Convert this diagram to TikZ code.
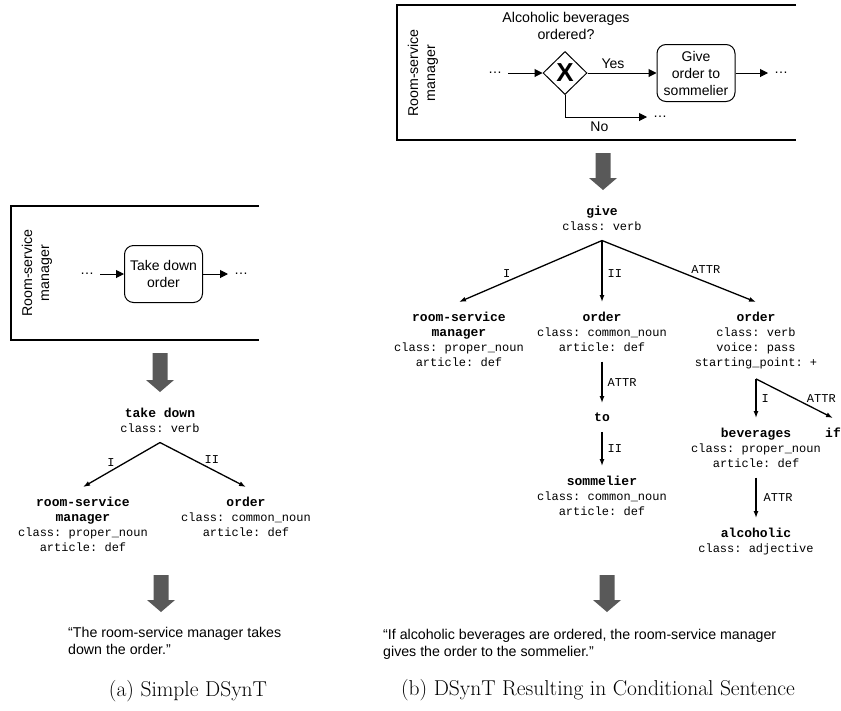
\documentclass[tikz,border=0pt]{standalone}
\usepackage{fontspec}
\setsansfont{Liberation Sans}
\setmonofont{Liberation Mono}
\usetikzlibrary{arrows.meta,shapes.geometric}

% grey block arrow between the stages: x, top, bottom
\newcommand{\graydown}[3]{%
  \fill[bigarrow] (#1-7.5,#2) -- (#1+7.5,#2) -- (#1+7.5,#3-12) -- (#1+14,#3-12)
    -- (#1,#3) -- (#1-14,#3-12) -- (#1-7.5,#3-12) -- cycle;}
\newcommand{\lexname}[1]{{\fontsize{13}{15}\selectfont\bfseries #1}}

\begin{document}
\begin{tikzpicture}[x=1pt, y=-1pt,
    lane/.style={line width=1.2pt},
    task/.style={draw, rounded corners=9pt, line width=1pt, align=center,
      minimum width=78pt, minimum height=57pt, inner sep=1pt,
      font=\sffamily\fontsize{14}{17}\selectfont},
    gate/.style={draw, diamond, line width=1pt, minimum width=44pt,
      minimum height=43pt, inner sep=0pt,
      font=\sffamily\bfseries\fontsize{26}{26}\selectfont},
    etc/.style={font=\sffamily\fontsize{14}{17}\selectfont, inner sep=1pt, outer sep=5pt},
    flow/.style={line width=1pt, -{Triangle[length=8pt,width=8pt]}},
    dep/.style={line width=1.3pt, -{Latex[length=7pt,width=5pt]}},
    lex/.style={align=center, inner sep=2pt, outer ysep=8pt, anchor=north,
      font=\ttfamily\fontsize{12}{15}\selectfont},
    rel/.style={font=\ttfamily\fontsize{12}{14}\selectfont, inner sep=1pt},
    sans/.style={font=\sffamily\fontsize{14.2}{17}\selectfont, align=left, inner sep=0pt},
    lbl/.style={font=\sffamily\fontsize{14}{17}\selectfont, inner sep=4pt},
    caption/.style={font=\fontsize{21.5}{25}\selectfont},
    bigarrow/.style={fill=black!65}]
\useasboundingbox (0,0) rectangle (841,710);

% (a) simple task
\draw[lane] (259,206) -| (11,340) -- (259,340);
\node[sans, rotate=90, align=center] (lanea) at (37,273) {Room-service\\manager};
\node[etc] (ina) at (87,274) {…};
\node[task] (take) at (163.5,274) {Take down\\order};
\node[etc] (outa) at (241,274) {…};
\draw[flow] (ina) -- (take);
\draw[flow] (take) -- (outa);

\graydown{160}{353}{392}

\node[lex] (takedown) at (160,398) {\lexname{take down}\\class: verb};
\node[lex] (rsma) at (83,487) {\lexname{room-service}\\\lexname{manager}\\class: proper\_noun\\article: def};
\node[lex] (ordera) at (246,487) {\lexname{order}\\class: common\_noun\\article: def};
\draw[dep] (takedown.south) -- node[rel, above left, pos=.57] {I} (rsma.north);
\draw[dep] (takedown.south) -- node[rel, above right, pos=.5] {II} (ordera.north);

\graydown{161}{575}{612}

\node[sans, anchor=north west] (sentencea) at (68,627) {“The room-service manager takes\\down the order.”};
\node[caption] (capa) at (188,691) {(a) Simple DSynT};

% (b) exclusive gateway
\draw[lane] (796,5) -| (397,140) -- (796,140);
\node[sans, rotate=90, align=center] (laneb) at (423,73) {Room-service\\manager};
\node[sans, align=center] (question) at (566,26) {Alcoholic beverages\\ordered?};
\node[etc] (inb) at (495,73) {…};
\node[gate] (xor) at (565,73) {X};
\node[task] (giveto) at (696,73) {Give\\order to\\sommelier};
\node[etc] (outb) at (781,73) {…};
\node[etc] (nob) at (660,117) {…};
\draw[flow] (inb) -- (xor);
\draw[flow] (xor) -- node[lbl, above, pos=.37] {Yes} (giveto);
\draw[flow] (giveto) -- (outb);
\draw[flow] (xor.south) |- node[lbl, below, pos=.71] {No} (nob);

\graydown{603}{153}{190}

\node[lex] (give) at (602,196) {\lexname{give}\\class: verb};
\node[lex] (rsmb) at (459,302) {\lexname{room-service}\\\lexname{manager}\\class: proper\_noun\\article: def};
\node[lex] (orderb) at (602,302) {\lexname{order}\\class: common\_noun\\article: def};
\node[lex] (orderv) at (756,302) {\lexname{order}\\class: verb\\voice: pass\\starting\_point: +};
\node[lex] (prep) at (602,403) {\lexname{to}};
\node[lex] (somm) at (602,466) {\lexname{sommelier}\\class: common\_noun\\article: def};
\node[lex] (bev) at (756,418) {\lexname{beverages}\\class: proper\_noun\\article: def};
\node[lex] (cond) at (833,418) {\lexname{if}};
\node[lex] (alc) at (756,518) {\lexname{alcoholic}\\class: adjective};
\draw[dep] (give.south) -- node[rel, above left, pos=.63] {I} (rsmb.north);
\draw[dep] (give.south) -- node[rel, right=4pt, pos=.54] {II} (orderb.north);
\draw[dep] (give.south) -- node[rel, above right, pos=.57] {ATTR} (orderv.north);
\draw[dep] (orderb.south) -- node[rel, right=4pt] {ATTR} (prep.north);
\draw[dep] (prep.south) -- node[rel, right=4pt] {II} (somm.north);
\draw[dep] (orderv.south) -- node[rel, right=4pt] {I} (bev.north);
\draw[dep] (orderv.south) -- node[rel, above right, pos=.64] {ATTR} (cond.north);
\draw[dep] (bev.south) -- node[rel, right=6pt] {ATTR} (alc.north);

\graydown{607}{575}{612}

\node[sans, anchor=north west] (sentenceb) at (383,629) {“If alcoholic beverages are ordered, the room-service manager\\gives the order to the sommelier.”};
\node[caption] (capb) at (598,690) {(b) DSynT Resulting in Conditional Sentence};
\end{tikzpicture}
\end{document}
